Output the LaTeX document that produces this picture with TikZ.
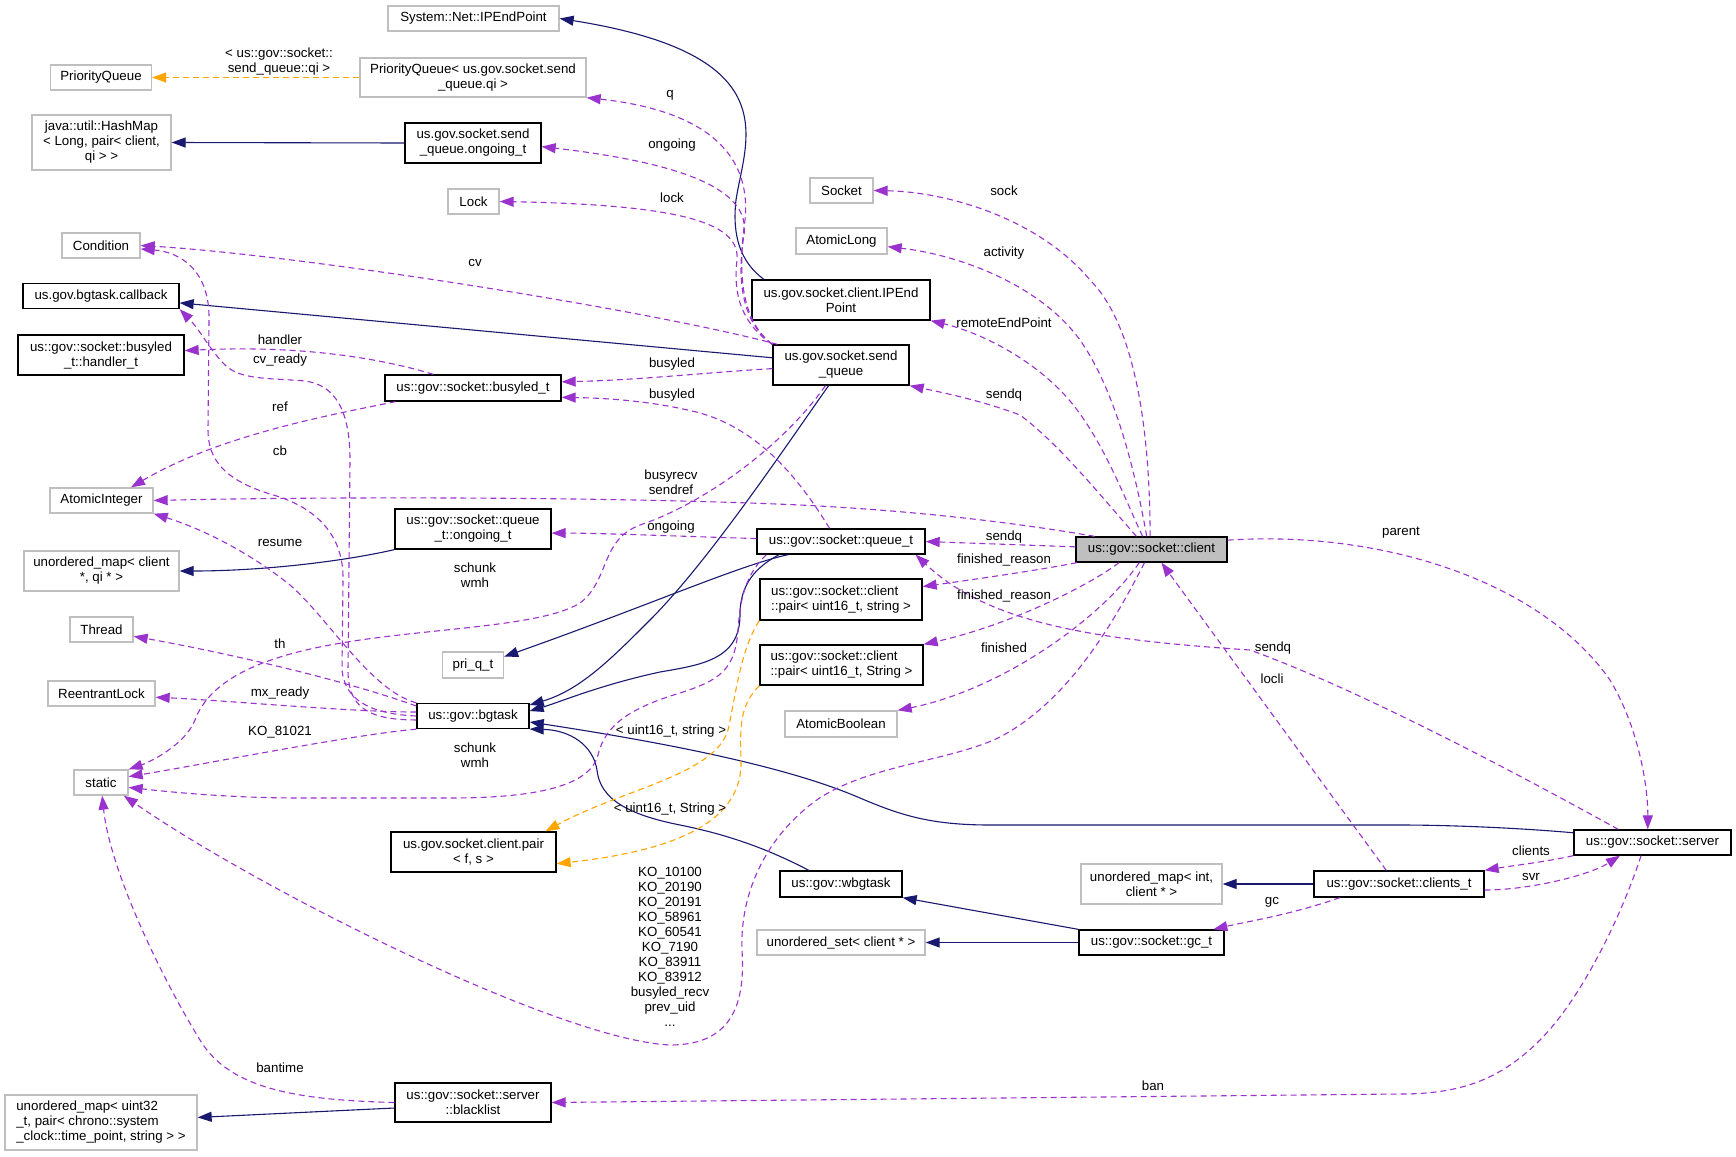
\documentclass[tikz,border=0pt]{standalone}
\usepackage{fontspec}
\setmainfont{Liberation Sans}
\usetikzlibrary{arrows.meta}

\definecolor{navyedge}{HTML}{191970}
\definecolor{useedge}{HTML}{9A32CD}
\definecolor{tpledge}{HTML}{FFA500}
\definecolor{extgray}{HTML}{BFBFBF}

\begin{document}
\begin{tikzpicture}[x=1pt,y=-1pt,
  every node/.style={font=\fontsize{13.3}{15}\selectfont},
  cls/.style={draw=black,fill=white,line width=1.3pt,inner sep=0pt,align=center},
  ext/.style={draw=extgray,fill=white,line width=1.3pt,inner sep=0pt,align=center},
  cur/.style={cls,fill=extgray},
  lbl/.style={inner sep=0pt,align=center},
  inh/.style={draw=navyedge,line width=1.1pt,-{Triangle[length=14pt,width=10pt]}},
  uses/.style={draw=useedge,line width=1.1pt,dash pattern=on 6pt off 4pt,-{Triangle[length=14pt,width=10pt]}},
  tpl/.style={draw=tpledge,line width=1.1pt,dash pattern=on 6pt off 4pt,-{Triangle[length=14pt,width=10pt]}}]
\fill[white] (0,0) rectangle (1736,1156);
\useasboundingbox (0,0) rectangle (1736,1156);

\node[ext,minimum width=171,minimum height=25] (sysipe) at (473.5,18.5) {System::Net::IPEndPoint};
\node[ext,minimum width=101,minimum height=25] (pq) at (101,77.5) {PriorityQueue};
\node[ext,minimum width=226,minimum height=39] (pqsq) at (473,77.5) {PriorityQueue< us.gov.socket.send\\\_queue.qi >};
\node[ext,minimum width=139,minimum height=55] (hmap) at (101.5,142.5) {java::util::HashMap\\< Long, pair< client,\\qi > >};
\node[cls,minimum width=136,minimum height=40] (sqo) at (473,143) {us.gov.socket.send\\\_queue.ongoing\_t};
\node[ext,minimum width=51,minimum height=25] (lock) at (473.5,201.5) {Lock};
\node[ext,minimum width=63,minimum height=25] (sock) at (841.5,190.5) {Socket};
\node[ext,minimum width=91,minimum height=26] (along) at (841.5,241) {AtomicLong};
\node[ext,minimum width=78,minimum height=25] (cond) at (101,245.5) {Condition};
\node[cls,minimum width=156,minimum height=25] (cbk) at (101,296) {us.gov.bgtask.callback};
\node[cls,minimum width=178,minimum height=40] (ipe) at (841,300) {us.gov.socket.client.IPEnd\\Point};
\node[cls,minimum width=166,minimum height=40] (hnd) at (101,355) {us::gov::socket::busyled\\\_t::handler\_t};
\node[cls,minimum width=136,minimum height=40] (sq) at (841,365) {us.gov.socket.send\\\_queue};
\node[cls,minimum width=176,minimum height=26] (busy) at (473,388) {us::gov::socket::busyled\_t};
\node[ext,minimum width=103,minimum height=25] (aint) at (101.5,500.5) {AtomicInteger};
\node[cls,minimum width=156,minimum height=40] (qo) at (473,529) {us::gov::socket::queue\\\_t::ongoing\_t};
\node[cls,minimum width=168,minimum height=25] (qt) at (841,541.5) {us::gov::socket::queue\_t};
\node[cur,minimum width=151,minimum height=25] (cli) at (1151.5,549.5) {us::gov::socket::client};
\node[ext,minimum width=155,minimum height=40] (umc) at (101.5,571) {unordered\_map< client\\{}*, qi * >};
\node[cls,align=left,minimum width=162,minimum height=41] (pstrl) at (841,599.5) {us::gov::socket::client\\::pair< uint16\_t, string >};
\node[ext,minimum width=63,minimum height=25] (thr) at (101.5,629.5) {Thread};
\node[ext,minimum width=61,minimum height=26] (priq) at (473,665) {pri\_q\_t};
\node[cls,align=left,minimum width=163,minimum height=40] (pstru) at (841.5,665) {us::gov::socket::client\\::pair< uint16\_t, String >};
\node[ext,minimum width=107,minimum height=25] (rlock) at (101.5,693.5) {ReentrantLock};
\node[cls,minimum width=112,minimum height=25] (bgt) at (473,716) {us::gov::bgtask};
\node[ext,minimum width=112,minimum height=26] (abool) at (841,724) {AtomicBoolean};
\node[ext,minimum width=54,minimum height=25] (stat) at (101,782.5) {static};
\node[cls,minimum width=157,minimum height=25] (srv) at (1652.5,842.5) {us::gov::socket::server};
\node[cls,minimum width=165,minimum height=40] (pfs) at (473.5,852) {us.gov.socket.client.pair\\< f, s >};
\node[cls,minimum width=122,minimum height=26] (wbg) at (841,884) {us::gov::wbgtask};
\node[ext,minimum width=141,minimum height=40] (umi) at (1151.5,884) {unordered\_map< int,\\client * >};
\node[cls,minimum width=170,minimum height=26] (clt) at (1399,884) {us::gov::socket::clients\_t};
\node[ext,minimum width=168,minimum height=25] (uset) at (841,942.5) {unordered\_set< client * >};
\node[cls,minimum width=145,minimum height=25] (gc) at (1151.5,942.5) {us::gov::socket::gc\_t};
\node[cls,minimum width=156,minimum height=39] (bl) at (473,1102.5) {us::gov::socket::server\\::blacklist};
\node[ext,align=left,minimum width=192,minimum height=55] (umu) at (101,1122.5) {unordered\_map< uint32\\\_t, pair< chrono::system\\\_clock::time\_point, string > >};

\draw[inh] (ipe.165) .. controls (740,262) and (732,235) .. (736,200) .. controls (745,140) and (790,55) .. (sysipe.east);
\draw[inh] (sqo.west) -- (hmap.east);
\draw[inh] (sq.174) -- (cbk.-5);
\draw[inh] (qo.south west) .. controls (340,562) and (260,571) .. (umc.east);
\draw[inh] (qt.-166) .. controls (740,565) and (650,605) .. (priq.15);
\draw[inh] (sq.-121) .. controls (790,440) and (710,560) .. (650,620) .. controls (610,660) and (580,690) .. (bgt.11);
\draw[inh] (qt.-168) .. controls (750,570) and (740,590) .. (740,615) .. controls (740,660) and (700,665) .. (660,672) .. controls (600,685) and (560,702) .. (bgt.5);
\draw[inh] (srv.173) .. controls (1520,828) and (1450,825) .. (1400,825) -- (990,825) .. controls (930,825) and (900,815) .. (860,798) .. controls (800,772) and (700,748) .. (bgt.-6);
\draw[inh] (wbg.157) .. controls (770,850) and (730,835) .. (680,825) .. controls (630,815) and (600,800) .. (597,770) .. controls (593,745) and (570,730) .. (bgt.-13);
\draw[inh] (gc.north west) -- (wbg.south east);
\draw[inh] (gc.west) -- (uset.east);
\draw[inh] (clt.west) -- (umi.east);
\draw[inh] (bl.-176) -- (umu.3);

\draw[tpl] (pqsq.west) -- (pq.east);
\draw[tpl] (pstrl.south west) .. controls (740,650) and (735,700) .. (728,730) .. controls (715,775) and (620,790) .. (pfs.16);
\draw[tpl] (pstru.south west) .. controls (740,705) and (740,725) .. (741,760) .. controls (743,820) and (680,850) .. (pfs.-8);

\draw[uses] (sq.north west) .. controls (740,320) and (738,270) .. (745,220) .. controls (752,150) and (700,110) .. (pqsq.south east);
\draw[uses] (sq.north west) .. controls (738,320) and (738,270) .. (744,235) .. controls (750,195) and (700,165) .. (sqo.-3);
\draw[uses] (sq.north west) .. controls (736,320) and (734,285) .. (737,260) .. controls (740,225) and (690,205) .. (lock.east);
\draw[uses] (sq.162) .. controls (650,310) and (300,255) .. (cond.east);
\draw[uses] (sq.-177) .. controls (700,373) and (640,380) .. (busy.4);
\draw[uses] (qt.131) .. controls (800,480) and (760,430) .. (700,413) .. controls (650,400) and (600,398) .. (busy.-6);
\draw[uses] (busy.161) .. controls (380,358) and (300,345) .. (hnd.3);
\draw[uses] (bgt.180) .. controls (370,714) and (345,700) .. (342,670) -- (343,580) .. controls (344,530) and (310,505) .. (270,494) .. controls (225,480) and (208,460) .. (208,430) -- (209,320) .. controls (210,270) and (180,252) .. (cond.-5);
\draw[uses] (bgt.-176) .. controls (365,720) and (348,705) .. (348,670) -- (350,460) .. controls (350,410) and (335,385) .. (305,381) .. controls (270,378) and (240,380) .. (225,365) .. controls (210,350) and (200,330) .. (cbk.south east);
\draw[uses] (busy.-170) .. controls (330,415) and (220,435) .. (aint.24);
\draw[uses] (bgt.north west) .. controls (370,690) and (330,620) .. (290,585) .. controls (240,545) and (190,525) .. (aint.south east);
\draw[uses] (cli.167) .. controls (1000,520) and (900,510) .. (800,505) .. controls (600,496) and (300,497) .. (aint.east);
\draw[uses] (qt.178) .. controls (700,537) and (600,533) .. (qo.-3);
\draw[uses] (sq.-127) .. controls (780,450) and (700,505) .. (640,525) .. controls (600,540) and (610,580) .. (580,603) .. controls (540,628) and (420,628) .. (330,645) .. controls (260,658) and (210,680) .. (195,720) .. controls (185,745) and (150,762) .. (stat.north east);
\draw[uses] (bgt.170) .. controls (330,675) and (200,648) .. (thr.-12);
\draw[uses] (bgt.176) .. controls (350,712) and (220,700) .. (rlock.-4);
\draw[uses] (bgt.south west) .. controls (350,735) and (200,765) .. (stat.12);
\draw[uses] (qt.-170) .. controls (745,575) and (740,600) .. (738,630) .. controls (735,670) and (720,680) .. (680,693) .. controls (630,708) and (605,725) .. (598,755) .. controls (590,785) and (540,798) .. (450,798) -- (300,798) .. controls (230,798) and (170,792) .. (stat.-10);
\draw[uses] (cli.-118) .. controls (1115,620) and (1070,700) .. (1000,737) .. controls (950,762) and (860,765) .. (810,805) .. controls (760,845) and (740,900) .. (742,950) .. controls (745,1000) and (735,1045) .. (670,1045) .. controls (560,1040) and (260,890) .. (stat.-30);
\draw[uses] (bl.west) .. controls (300,1100) and (230,1090) .. (200,1040) .. controls (160,975) and (110,870) .. (stat.-85);
\draw[uses] (srv.-131) .. controls (1620,920) and (1580,1000) .. (1540,1040) .. controls (1500,1080) and (1460,1094) .. (1400,1094) -- (bl.east);
\draw[uses] (cli.96) .. controls (1150,450) and (1140,330) .. (1090,280) .. controls (1040,220) and (950,192) .. (sock.east);
\draw[uses] (cli.110) .. controls (1135,470) and (1115,390) .. (1080,340) .. controls (1040,285) and (960,255) .. (along.-7);
\draw[uses] (cli.124) .. controls (1125,500) and (1100,430) .. (1060,390) .. controls (1020,350) and (970,330) .. (ipe.south east);
\draw[uses] (cli.139) .. controls (1100,495) and (1060,445) .. (1020,415) .. controls (980,400) and (940,392) .. (sq.south east);
\draw[uses] (cli.178) -- (qt.east);
\draw[uses] (cli.-170) .. controls (1040,570) and (970,580) .. (pstrl.9);
\draw[uses] (cli.-158) .. controls (1090,585) and (1010,625) .. (pstru.north east);
\draw[uses] (cli.-133) .. controls (1100,620) and (1000,690) .. (abool.north east);
\draw[uses] (cli.7) .. controls (1380,530) and (1540,580) .. (1610,680) .. controls (1640,730) and (1648,790) .. (srv.110);
\draw[uses] (srv.159) .. controls (1520,775) and (1360,690) .. (1250,650) .. controls (1100,640) and (990,625) .. (qt.-10);
\draw[uses] (clt.133) -- (cli.-53);
\draw[uses] (srv.south west) .. controls (1545,862) and (1510,866) .. (clt.north east);
\draw[uses] (clt.-4) .. controls (1530,890) and (1590,875) .. (srv.-158);
\draw[uses] (clt.-167) .. controls (1290,915) and (1245,922) .. (gc.12);

\node[lbl] (lqi) at (279,62) {< us::gov::socket::\\send\_queue::qi >};
\node[lbl] (lq) at (670,95) {q};
\node[lbl] (longo) at (672,145) {ongoing};
\node[lbl] (llock) at (672,198) {lock};
\node[lbl] (lsock) at (1004,191) {sock};
\node[lbl] (lact) at (1004,253) {activity};
\node[lbl] (lcv) at (475,263) {cv};
\node[lbl] (lrep) at (1004,323) {remoteEndPoint};
\node[lbl] (lhnd) at (280,340) {handler};
\node[lbl] (lcvr) at (280,360) {cv\_ready};
\node[lbl] (lbsy) at (672,364) {busyled};
\node[lbl] (lbsyq) at (672,395) {busyled};
\node[lbl] (lsndq) at (1004,395) {sendq};
\node[lbl] (lref) at (280,407) {ref};
\node[lbl] (lcb) at (280,451) {cb};
\node[lbl] (lbrs) at (671,482) {busyrecv\\sendref};
\node[lbl] (longq) at (671,527) {ongoing};
\node[lbl] (lsndqt) at (1004,537) {sendq};
\node[lbl] (lpar) at (1401,533) {parent};
\node[lbl] (lres) at (280,543) {resume};
\node[lbl] (lfr) at (1004,560) {finished\_reason};
\node[lbl] (lsch) at (475,575) {schunk\\wmh};
\node[lbl] (lfrs) at (1004,596) {finished\_reason};
\node[lbl] (lth) at (280,644) {th};
\node[lbl] (lsndsv) at (1273,648) {sendq};
\node[lbl] (lfin) at (1004,648) {finished};
\node[lbl] (lloc) at (1272,679) {locli};
\node[lbl] (lmx) at (280,693) {mx\_ready};
\node[lbl] (lu16) at (671,731) {< uint16\_t, string >};
\node[lbl] (lko1) at (280,732) {KO\_81021};
\node[lbl] (lschq) at (475,755) {schunk\\wmh};
\node[lbl] (lU16) at (670,809) {< uint16\_t, String >};
\node[lbl] (lcls) at (1531,851) {clients};
\node[lbl] (lsvr) at (1531,877) {svr};
\node[lbl] (lgc) at (1272,902) {gc};
\node[lbl] (lko) at (670,947) {KO\_10100\\KO\_20190\\KO\_20191\\KO\_58961\\KO\_60541\\KO\_7190\\KO\_83911\\KO\_83912\\busyled\_recv\\prev\_uid\\...};
\node[lbl] (lban) at (280,1068) {bantime};
\node[lbl] (lbn) at (1153,1086) {ban};
\end{tikzpicture}
\end{document}
